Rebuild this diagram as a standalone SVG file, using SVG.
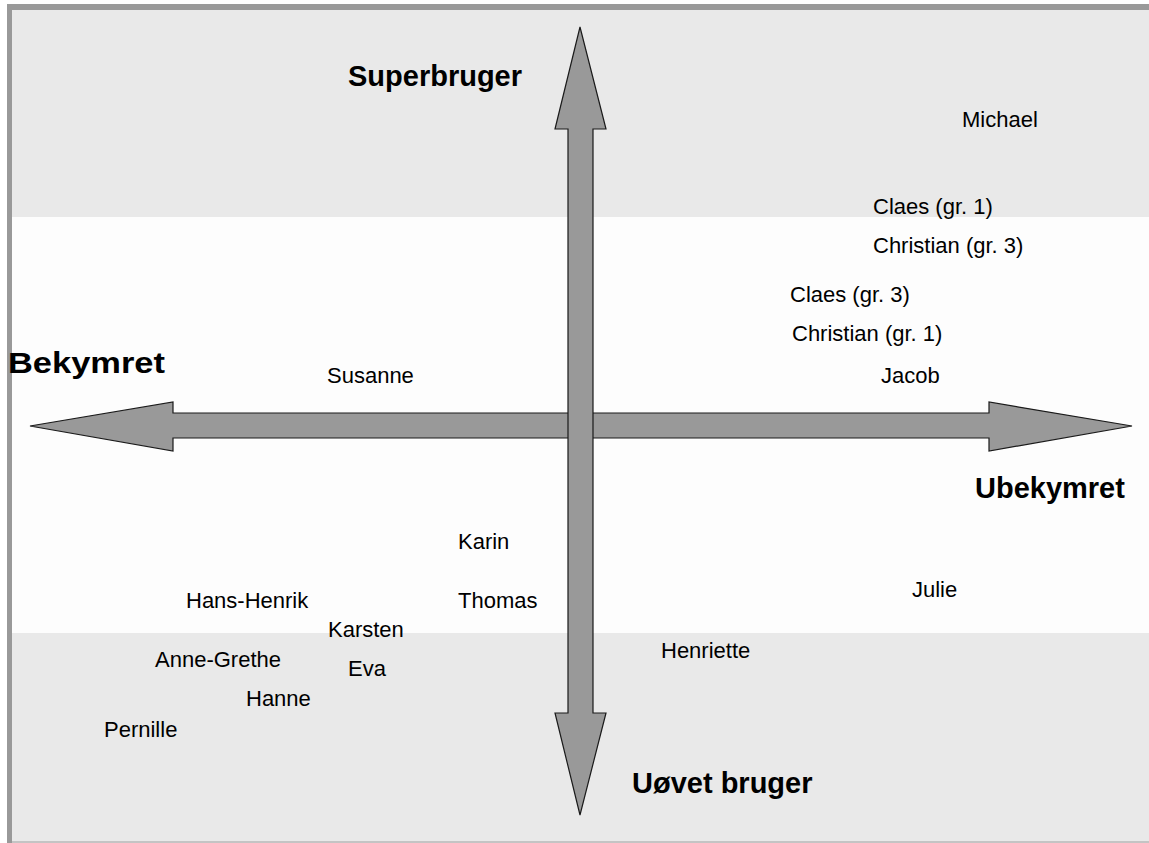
<svg xmlns="http://www.w3.org/2000/svg" width="1149" height="843" viewBox="0 0 1149 843">
<style>
.arrow{fill:#999999;stroke:#1a1a1a;stroke-width:1.2;stroke-linejoin:miter}
.name{font-family:"Liberation Sans",Arial,sans-serif;font-size:22px;fill:#000}
.axis{font-family:"Liberation Sans",Arial,sans-serif;font-size:29px;font-weight:bold;fill:#000}
</style>
<rect x="0" y="0" width="1149" height="843" fill="#ffffff"/>
<g id="background">
<rect x="7" y="4" width="1142" height="839" fill="#fdfdfd"/>
<rect x="12" y="10" width="1137" height="207" fill="#e9e9e9"/>
<rect x="12" y="633" width="1137" height="209" fill="#e9e9e9"/>
<rect x="7" y="4" width="1142" height="6" fill="#999999"/>
<rect x="7" y="4" width="5" height="839" fill="#999999"/>
<rect x="12" y="841" width="1137" height="2" fill="#c4c4c4"/>
</g>
<g id="connectors">
<polygon id="axis-horizontal" class="arrow" points="30,426 173,402 173,413 989,413 989,402 1132,426 989,451 989,438 173,438 173,451"/>
<polygon id="axis-vertical" class="arrow" points="580,27 606,129 593,129 593,713 606,713 580,815 555,713 568,713 568,129 555,129"/>
</g>
<g id="axis-labels">
<text id="superbruger" class="axis" x="348" y="86">Superbruger</text>
<text id="bekymret" class="axis" x="8" y="373" textLength="157" lengthAdjust="spacingAndGlyphs">Bekymret</text>
<text id="ubekymret" class="axis" x="975" y="498">Ubekymret</text>
<text id="uovet" class="axis" x="632" y="793">Uøvet bruger</text>
</g>
<g id="names">
<text id="michael" class="name" x="962" y="127">Michael</text>
<text id="claes1" class="name" x="873" y="214">Claes (gr. 1)</text>
<text id="christian3" class="name" x="873" y="253">Christian (gr. 3)</text>
<text id="claes3" class="name" x="790" y="302">Claes (gr. 3)</text>
<text id="christian1" class="name" x="792" y="341">Christian (gr. 1)</text>
<text id="jacob" class="name" x="881" y="383">Jacob</text>
<text id="susanne" class="name" x="327" y="383">Susanne</text>
<text id="karin" class="name" x="458" y="549">Karin</text>
<text id="thomas" class="name" x="458" y="608">Thomas</text>
<text id="hans-henrik" class="name" x="186" y="608">Hans-Henrik</text>
<text id="julie" class="name" x="912" y="597">Julie</text>
<text id="karsten" class="name" x="328" y="637">Karsten</text>
<text id="henriette" class="name" x="661" y="658">Henriette</text>
<text id="anne-grethe" class="name" x="155" y="667">Anne-Grethe</text>
<text id="eva" class="name" x="348" y="676">Eva</text>
<text id="hanne" class="name" x="246" y="706">Hanne</text>
<text id="pernille" class="name" x="104" y="737">Pernille</text>
</g>
</svg>
